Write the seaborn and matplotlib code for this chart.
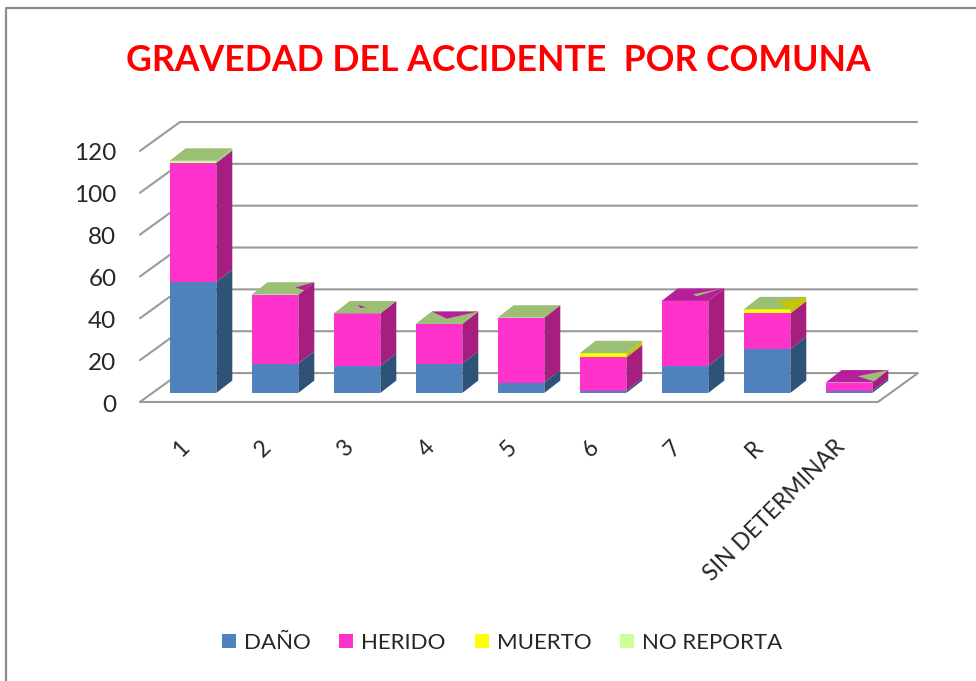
import numpy as np
import seaborn as sns
import matplotlib.pyplot as plt
from matplotlib.lines import Line2D
from matplotlib.patches import Patch, Polygon

# values
COMUNAS = ['1', '2', '3', '4', '5', '6', '7', 'R', 'SIN DETERMINAR']
DANO = [53, 14, 13, 14, 5, 1, 13, 21, 1]
HERIDO = [57, 33, 25, 19, 31, 16, 31, 17, 4]
MUERTO = [0, 0, 0, 0, 0, 2, 0, 2, 0]
NO_REPORTA = [1, 0, 0, 0, 0, 0, 0, 0, 0]
TICKS = [0, 20, 40, 60, 80, 100, 120]
SERIES = ['DAÑO', 'HERIDO', 'MUERTO', 'NO REPORTA']

FRONT = ['#4F81BD', '#FF33CC', '#FFFF00', '#CCFF99']
SIDE = ['#2F5278', '#A51E80', '#C4C400', '#A6CC7A']
TOP_GREEN = '#9BBF75'
TOP_MAGENTA = '#B5209A'
TOP_YELLOW = '#C4C400'
GRID = '#9A9A9A'

W, H = 976, 681
PX_CAT = 82.0    # px per category
PX_UNIT = 2.1    # px per value unit
WALL_X, WALL_Y = 40 / PX_CAT, 29 / PX_UNIT      # depth of the floor
GAP_X, GAP_Y = 12 / PX_CAT, 9 / PX_UNIT         # front of floor to front of bar
BAR_X, BAR_Y = 16 / PX_CAT, 12.5 / PX_UNIT      # depth of a bar

sns.set_theme(style='white')
plt.rcParams['font.family'] = ['Lato', 'DejaVu Sans']

fig = plt.figure(figsize=(W / 100, H / 100), dpi=100)
left, right, top, bottom = 140, 917, 122, 403
ax = fig.add_axes([left / W, 1 - bottom / H, (right - left) / W, (bottom - top) / H])

bottoms = np.zeros(len(COMUNAS))
stack = []
for name, vals, col in zip(SERIES, [DANO, HERIDO, MUERTO, NO_REPORTA], FRONT):
    sns.barplot(x=COMUNAS, y=vals, bottom=bottoms, color=col, saturation=1,
                width=46.6 / PX_CAT, linewidth=0, ax=ax, zorder=3)
    stack.append((bottoms.copy(), np.array(vals, dtype=float)))
    bottoms = bottoms + np.array(vals)

x_min = -0.5 - GAP_X
ax.set_xlim(x_min, x_min + (right - left) / PX_CAT)
ax.set_ylim(-GAP_Y, -GAP_Y + (bottom - top) / PX_UNIT)
sns.despine(ax=ax, left=True, bottom=True, top=True, right=True)

# wall and floor lines
x_end = x_min + 738 / PX_CAT
line = dict(color=GRID, lw=1.5, zorder=1, clip_on=False, solid_capstyle='round')
for t in TICKS:
    y0 = t - GAP_Y
    ax.plot([x_min, x_min + WALL_X, x_min + (right - left) / PX_CAT],
            [y0, y0 + WALL_Y, y0 + WALL_Y], **line)
ax.plot([x_min, x_end, x_end + WALL_X], [-GAP_Y, -GAP_Y, -GAP_Y + WALL_Y], **line)

# depth of the bars: side faces per series
width = 46.6 / PX_CAT
for (b, v), col in zip(stack, SIDE):
    for i in range(len(COMUNAS)):
        if v[i] == 0:
            continue
        x1 = i + width / 2
        ax.add_patch(Polygon([(x1, b[i]), (x1 + BAR_X, b[i] + BAR_Y),
                              (x1 + BAR_X, b[i] + v[i] + BAR_Y), (x1, b[i] + v[i])],
                             fc=col, ec='none', zorder=3))


def top_pts(i, uv):
    x0 = i - width / 2
    return [(x0 + u * width + d * BAR_X, bottoms[i] + d * BAR_Y) for u, d in uv]


# top faces, with the rendering leftovers of the zero valued series
TOP_COLOR = [TOP_GREEN] * 6 + [TOP_MAGENTA, TOP_GREEN, TOP_MAGENTA]
LEFTOVER = {
    1: (TOP_MAGENTA, [(.74, .57), (1, 1), (1, .37)]),
    2: (TOP_MAGENTA, [(.28, .7), (.52, .5), (.42, .45)]),
    3: (TOP_MAGENTA, [(0, 1), (1, 1), (.52, .43)]),
    6: (TOP_GREEN, [(.49, .54), (.95, 1), (.62, .37)]),
    7: (TOP_YELLOW, [(.52, .53), (1, 1), (1, 0)]),
    8: (TOP_GREEN, [(.51, .51), (1, 1), (1, .09)]),
}
for i, col in enumerate(TOP_COLOR):
    ax.add_patch(Polygon(top_pts(i, [(0, 0), (1, 0), (1, 1), (0, 1)]), fc=col, ec='none', zorder=4))
    if i in LEFTOVER:
        c, uv = LEFTOVER[i]
        ax.add_patch(Polygon(top_pts(i, uv), fc=c, ec='none', zorder=5))

ax.set_yticks(np.array(TICKS) - GAP_Y - 0.5, labels=TICKS)
ax.set_xticks(np.arange(len(COMUNAS)) - GAP_X - 3 / PX_CAT, labels=COMUNAS)
ax.tick_params(axis='y', length=0, pad=17, labelsize=17.5, labelcolor='#262626')
ax.tick_params(axis='x', length=0, pad=24, labelsize=16.5, labelcolor='#262626')
for lab in ax.get_xticklabels():
    lab.set(rotation=45, ha='right', va='top', rotation_mode='anchor')
ax.set_xlabel('')
ax.set_ylabel('')

fig.text(498 / W, 1 - 60.5 / H, 'GRAVEDAD DEL ACCIDENTE  POR COMUNA', color='#FF0000',
         fontsize=25.7, fontweight='bold', ha='center', va='center')

handles = [Patch(fc=c, ec='none', label=s) for c, s in zip(FRONT, SERIES)]
fig.legend(handles=handles, ncols=4, loc='center', bbox_to_anchor=(502 / W, 1 - 643 / H),
           frameon=False, fontsize=16, labelcolor='#262626', handlelength=0.63,
           handleheight=0.63, handletextpad=0.36, columnspacing=1.3)

# chart frame, only its left and top edge are inside the crop
fig.add_artist(Line2D([6 / W, 6 / W, 1], [0, 1 - 8 / H, 1 - 8 / H], color='#8C8C8C', lw=1.6))

fig.savefig('out.png', dpi=100)
